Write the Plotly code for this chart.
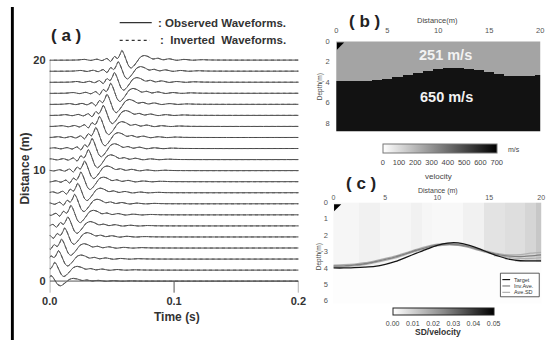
import plotly.graph_objects as go

W, H = 556, 342
def px(x):
    return x / W
def py(y):
    return 1 - y / H

FONT = "Liberation Sans"

# ---------------- panel (a) data ----------------
TRACE_DISTANCE_M = list(range(21))
ARRIVAL_TIME_S = [0.001, 0.004, 0.007, 0.0095, 0.012, 0.0145, 0.017, 0.020, 0.0225, 0.025,
                  0.028, 0.031, 0.034, 0.037, 0.040, 0.043, 0.046, 0.049, 0.052, 0.055, 0.058]
OBSERVED_AMPLITUDE = [0.55, 0.75, 0.80, 0.85, 0.85, 0.85, 0.90, 0.90, 0.90, 0.90, 0.92,
                      0.95, 0.95, 0.95, 0.95, 0.95, 0.95, 0.95, 0.92, 0.90, 0.90]
INVERTED_AMPLITUDE = [0.50, 0.70, 0.78, 0.82, 0.84, 0.86, 0.88, 0.88, 0.90, 0.92, 0.90,
                      0.92, 0.94, 0.96, 0.93, 0.94, 0.96, 0.93, 0.90, 0.88, 0.92]
WAVELET_LAG_S = [-0.036, -0.030, -0.025, -0.020, -0.016, -0.012, -0.009, -0.006, -0.0035,
                 -0.0015, 0.0, 0.0015, 0.0035, 0.0055, 0.0075, 0.0095, 0.012, 0.015, 0.018,
                 0.021, 0.025, 0.029, 0.033, 0.038, 0.044, 0.050, 0.057, 0.064, 0.072]
WAVELET_SHAPE = [0.0, 0.06, -0.04, 0.08, -0.06, 0.15, -0.15, 0.35, 0.15, 0.55, 0.95, 0.65,
                 0.0, -0.60, -0.80, -0.60, -0.20, 0.30, 0.45, 0.35, 0.10, 0.18, 0.02, 0.12,
                 -0.03, 0.06, -0.02, 0.03, 0.0]
TIME_TICKS = [0.0, 0.1, 0.2]
TIME_TICK_TEXT = ["0.0", "0.1", "0.2"]
DIST_TICKS = [0, 10, 20]

# ---------------- panel (b) data ----------------
MODEL_X_M = list(range(21))
INTERFACE_DEPTH_M = [3.95, 3.95, 3.93, 3.90, 3.85, 3.72, 3.55, 3.35, 3.12, 2.90, 2.70,
                     2.58, 2.58, 2.68, 2.85, 3.05, 3.25, 3.40, 3.45, 3.40, 3.28]
UPPER_VELOCITY = 251
LOWER_VELOCITY = 650
VEL_TICKS = [0, 100, 200, 300, 400, 500, 600, 700]
MODEL_MAX_DEPTH = 8.85
DEPTH_TICKS_B = [0, 2, 4, 6, 8]
DIST_TICKS_BC = [0, 5, 10, 15, 20]
SOURCE_X = [0.3]
SOURCE_DEPTH_B = [0.35]
SOURCE_DEPTH_C = [0.25]

# ---------------- panel (c) data ----------------
TARGET_DEPTH = [4.00, 4.00, 3.98, 3.95, 3.90, 3.78, 3.60, 3.35, 3.10, 2.85, 2.62,
                2.48, 2.47, 2.60, 2.82, 3.08, 3.30, 3.48, 3.56, 3.57, 3.57]
INV_AVE_DEPTH = [3.88, 3.87, 3.82, 3.74, 3.62, 3.48, 3.32, 3.12, 2.92, 2.74, 2.60,
                 2.55, 2.58, 2.70, 2.88, 3.05, 3.20, 3.28, 3.30, 3.26, 3.20]
AVE_MINUS_SD_DEPTH = [3.82, 3.80, 3.76, 3.68, 3.56, 3.42, 3.26, 3.06, 2.86, 2.68, 2.55,
                      2.50, 2.54, 2.66, 2.84, 3.00, 3.14, 3.20, 3.18, 3.10, 3.05]
AVE_PLUS_SD_DEPTH = [3.94, 3.93, 3.88, 3.80, 3.68, 3.54, 3.38, 3.18, 2.98, 2.80, 2.66,
                     2.60, 2.63, 2.75, 2.93, 3.10, 3.26, 3.36, 3.42, 3.42, 3.36]
SD_UPPER = [0.002, 0.002, 0.002, 0.003, 0.003, 0.002, 0.002, 0.002, 0.003, 0.002, 0.0015,
            0.0015, 0.0015, 0.003, 0.003, 0.006, 0.006, 0.007, 0.007, 0.009, 0.012]
SD_LOWER = 0.0004
SD_TICKS = [0.00, 0.01, 0.02, 0.03, 0.04, 0.05]
SD_TICK_TEXT = ["0.00", "0.01", "0.02", "0.03", "0.04", "0.05"]
DEPTH_TICKS_C = [0, 1, 2, 3, 4, 5, 6]
SECTION_MAX_DEPTH = 6.15

fig = go.Figure()

# ---- panel (a) waveforms
LINE_COL = "#474747"
for d, t0, a_obs, a_inv in zip(TRACE_DISTANCE_M, ARRIVAL_TIME_S, OBSERVED_AMPLITUDE, INVERTED_AMPLITUDE):
    xs = [-0.05] + [t0 + lag for lag in WAVELET_LAG_S] + [0.25]
    y_obs = [d] + [d + a_obs * v for v in WAVELET_SHAPE] + [d]
    y_inv = [d] + [d + a_inv * v for v in WAVELET_SHAPE] + [d]
    fig.add_trace(go.Scatter(x=xs, y=y_obs, mode="lines", xaxis="x", yaxis="y",
                             line=dict(color=LINE_COL, width=1, shape="spline", smoothing=0.7),
                             showlegend=False, hoverinfo="skip"))
    fig.add_trace(go.Scatter(x=xs, y=y_inv, mode="lines", xaxis="x", yaxis="y",
                             line=dict(color="#5a5a5a", width=1, dash="dot", shape="spline", smoothing=0.7),
                             showlegend=False, hoverinfo="skip"))

# ---- panel (b) velocity model
depth_b = [0.05 + 0.1 * i for i in range(int(MODEL_MAX_DEPTH / 0.1))]
z_b = [[UPPER_VELOCITY if dep < INTERFACE_DEPTH_M[j] else LOWER_VELOCITY
        for j in range(len(MODEL_X_M))] for dep in depth_b]
fig.add_trace(go.Heatmap(
    x=MODEL_X_M, y=depth_b, z=z_b, xaxis="x2", yaxis="y2", zmin=0, zmax=700,
    colorscale=[[0, "#ffffff"], [1, "#000000"]], hoverinfo="skip",
    colorbar=dict(orientation="h", x=px(444.5), xanchor="center", y=py(143), yanchor="top",
                  len=117 / W, lenmode="fraction", thickness=9, thicknessmode="pixels",
                  xpad=0, ypad=0, outlinewidth=1, outlinecolor="#777",
                  tickvals=VEL_TICKS, tickangle=0, ticks="outside", ticklen=3,
                  tickcolor="rgba(0,0,0,0)",
                  tickfont=dict(family=FONT, size=7.5, color="#444"))))
fig.add_trace(go.Scatter(x=SOURCE_X, y=SOURCE_DEPTH_B, mode="markers", xaxis="x2", yaxis="y2",
                         marker=dict(symbol="triangle-nw", size=8, color="black"),
                         showlegend=False, hoverinfo="skip", cliponaxis=False))

# ---- panel (c) SD section
depth_c = [0.05 + 0.1 * i for i in range(int(SECTION_MAX_DEPTH / 0.1) + 1)]
z_c = [[SD_UPPER[j] if dep < TARGET_DEPTH[j] else SD_LOWER
        for j in range(len(MODEL_X_M))] for dep in depth_c]
fig.add_trace(go.Heatmap(
    x=MODEL_X_M, y=depth_c, z=z_c, xaxis="x3", yaxis="y3", zmin=0, zmax=0.05,
    colorscale=[[0, "#ffffff"], [0.5, "#8a8a8a"], [1, "#000000"]], hoverinfo="skip",
    colorbar=dict(orientation="h", x=px(448), xanchor="center", y=py(309), yanchor="top",
                  len=104 / W, lenmode="fraction", thickness=7, thicknessmode="pixels",
                  xpad=0, ypad=0, outlinewidth=1, outlinecolor="#222",
                  tickvals=SD_TICKS, ticktext=SD_TICK_TEXT, tickangle=0, ticks="outside",
                  ticklen=3, tickcolor="rgba(0,0,0,0)",
                  tickfont=dict(family=FONT, size=7, color="#444"))))
for ys, col, w in [(AVE_MINUS_SD_DEPTH, "#b0b0b0", 1.2), (AVE_PLUS_SD_DEPTH, "#b0b0b0", 1.2),
                   (INV_AVE_DEPTH, "#808080", 1.4), (TARGET_DEPTH, "#151515", 1.3)]:
    fig.add_trace(go.Scatter(x=MODEL_X_M, y=ys, mode="lines", xaxis="x3", yaxis="y3",
                             line=dict(color=col, width=w, shape="spline", smoothing=0.8),
                             showlegend=False, hoverinfo="skip"))
fig.add_trace(go.Scatter(x=SOURCE_X, y=SOURCE_DEPTH_C, mode="markers", xaxis="x3", yaxis="y3",
                         marker=dict(symbol="triangle-nw", size=8, color="black"),
                         showlegend=False, hoverinfo="skip", cliponaxis=False))

# ---- axes
tick_small = dict(family=FONT, size=7.5, color="#555")
tick_bold = dict(family=FONT, size=11, color="#333", weight="bold")
fig.update_layout(
    width=W, height=H, margin=dict(l=0, r=0, t=0, b=0),
    paper_bgcolor="white", plot_bgcolor="white", showlegend=False,
    xaxis=dict(domain=[px(43), px(299)], range=[0, 0.2], tickvals=TIME_TICKS, ticktext=TIME_TICK_TEXT,
               tickfont=tick_bold, showgrid=False, zeroline=False, showline=False,
               ticks="", anchor="y"),
    yaxis=dict(domain=[py(294.4), py(43.5)], range=[-1.1, 21.2], tickvals=DIST_TICKS,
               tickfont=tick_bold, showgrid=False, zeroline=False, showline=False,
               ticks="outside", ticklen=1, tickcolor="rgba(0,0,0,0)", anchor="x"),
    xaxis2=dict(domain=[px(338), px(548)], range=[0, 20], side="top", anchor="y2",
                tickvals=DIST_TICKS_BC, tickfont=tick_small, showgrid=False, zeroline=False,
                showline=False, ticks="outside", ticklen=4, tickcolor="rgba(0,0,0,0)"),
    yaxis2=dict(domain=[py(130), py(38)], range=[MODEL_MAX_DEPTH, 0], anchor="x2",
                tickvals=DEPTH_TICKS_B, tickfont=tick_small, showgrid=False, zeroline=False,
                showline=False, ticks="outside", ticklen=4, tickcolor="rgba(0,0,0,0)"),
    xaxis3=dict(domain=[px(335), px(549)], range=[0, 20], side="top", anchor="y3",
                tickvals=DIST_TICKS_BC, tickfont=dict(family=FONT, size=7, color="#555"),
                showgrid=False, zeroline=False, showline=False, ticks=""),
    yaxis3=dict(domain=[py(304.5), py(202)], range=[SECTION_MAX_DEPTH, 0], anchor="x3",
                tickvals=DEPTH_TICKS_C, tickfont=tick_small, showgrid=False, zeroline=False,
                showline=False, ticks="outside", ticklen=3, tickcolor="rgba(0,0,0,0)"),
)

# ---- decorations: axis lines / ticks of panel (a)
shapes = []
AX_COL = "#555"
shapes.append(dict(type="line", xref="x", yref="y", x0=TIME_TICKS[0], x1=TIME_TICKS[-1], y0=0, y1=0,
                   line=dict(color=AX_COL, width=1)))
shapes.append(dict(type="line", xref="x", yref="y", x0=0, x1=0, y0=0, y1=DIST_TICKS[-1],
                   line=dict(color=AX_COL, width=1)))
for tv in TIME_TICKS:
    shapes.append(dict(type="line", xref="x", yref="y", x0=tv, x1=tv, y0=0, y1=-1.05,
                       line=dict(color=AX_COL, width=1)))
# left black bar
shapes.append(dict(type="rect", xref="paper", yref="paper", x0=px(3), x1=px(6), y0=0, y1=py(3),
                   line=dict(width=0), fillcolor="black"))
# legend of (a)
shapes.append(dict(type="line", xref="paper", yref="paper", x0=px(115), x1=px(148), y0=py(19), y1=py(19),
                   line=dict(color="#333", width=1.3)))
shapes.append(dict(type="line", xref="paper", yref="paper", x0=px(115), x1=px(146), y0=py(37), y1=py(37),
                   line=dict(color="#333", width=1.3, dash="dot")))
# legend of (c)
shapes.append(dict(type="rect", xref="paper", yref="paper", x0=px(507), x1=px(547), y0=py(298), y1=py(274),
                   line=dict(color="#333", width=0.8), fillcolor="white"))
LEG_C = [("Target", "#151515", 280.5), ("Inv.Ave.", "#808080", 287), ("Ave.SD", "#b0b0b0", 293.5)]
for name, col, yy in LEG_C:
    shapes.append(dict(type="line", xref="paper", yref="paper", x0=px(509), x1=px(517), y0=py(yy), y1=py(yy),
                       line=dict(color=col, width=1.2)))
fig.update_layout(shapes=shapes)

ann = []
def text(x, y, s, size, color="#333", bold=False, angle=0, xanchor="center"):
    ann.append(dict(x=px(x), y=py(y), xref="paper", yref="paper", text=s, showarrow=False,
                    xanchor=xanchor, yanchor="middle", textangle=angle,
                    font=dict(family=FONT, size=size, color=color, weight="bold" if bold else "normal")))

text(60, 32, "( a )", 17, "#222", True)
text(152, 19, ": Observed Waveforms.", 11.5, "#333", True, xanchor="left")
text(154, 37, ":  Inverted  Waveforms.", 11.5, "#333", True, xanchor="left")
text(174, 319, "Time (s)", 12, "#333", True)
text(18, 167, "Distance (m)", 12, "#333", True, angle=-90)
text(367, 18, "( b )", 17, "#222", True)
text(442, 17, "Distance(m)", 7.5, "#444")
text(321, 84, "Depth(m)", 6.5, "#444", angle=-90)
text(450, 52, "251 m/s", 14.5, "#f2f2f2", True)
text(452, 95, "650 m/s", 14.5, "#f2f2f2", True)
text(513, 148, "m/s", 7, "#444", xanchor="left")
text(443, 176, "velocity", 8, "#444")
text(363, 183, "( c )", 17, "#222", True)
text(443, 190, "Distance (m)", 7, "#444")
text(321, 257, "Depth(m)", 6.5, "#444", angle=-90)
text(443, 334, "SD/velocity", 8.5, "#333", True)
for name, col, yy in LEG_C:
    text(519, yy, name, 5.5, "#333", xanchor="left")
fig.update_layout(annotations=ann)

fig.write_html("out.html")
